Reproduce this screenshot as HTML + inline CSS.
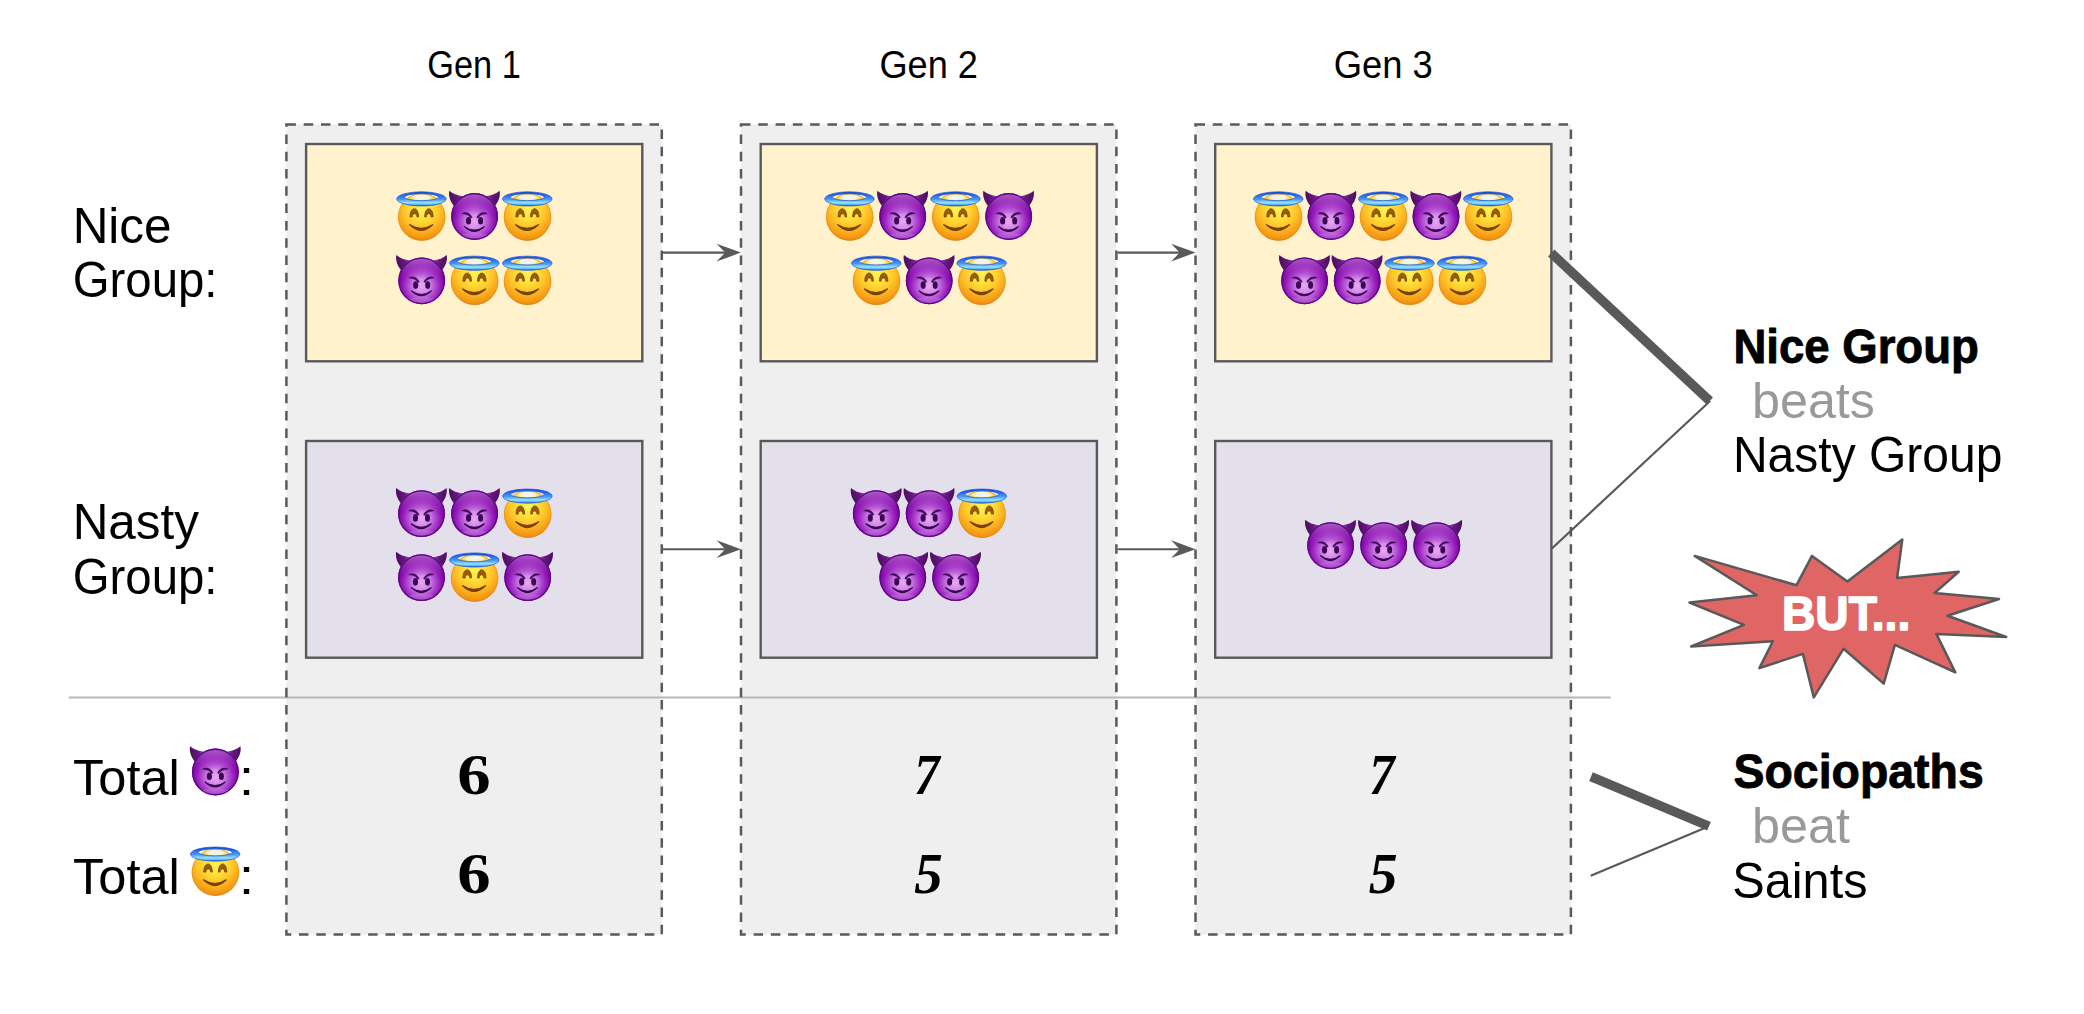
<!DOCTYPE html>
<html><head><meta charset="utf-8"><title>Nice vs Nasty</title>
<style>html,body{margin:0;padding:0;background:#fff;overflow:hidden}svg{display:block}</style>
</head><body>
<svg width="2084" height="1014" viewBox="0 0 2084 1014">

<defs>
  <radialGradient id="gFace" cx="0" cy="-8" r="32" gradientUnits="userSpaceOnUse">
    <stop offset="0" stop-color="#fff452"/>
    <stop offset="0.3" stop-color="#ffe23a"/>
    <stop offset="0.55" stop-color="#fec62a"/>
    <stop offset="0.75" stop-color="#f9aa1c"/>
    <stop offset="0.92" stop-color="#f29412"/>
    <stop offset="1" stop-color="#e47e0a"/>
  </radialGradient>
  <radialGradient id="gFaceTop" cx="0" cy="-19.6" r="13" gradientUnits="userSpaceOnUse" gradientTransform="translate(0,-19.6) scale(1,0.32) translate(0,19.6)">
    <stop offset="0" stop-color="#f3f6ee"/>
    <stop offset="0.6" stop-color="#f0f3dc"/>
    <stop offset="1" stop-color="#fff27a" stop-opacity="0"/>
  </radialGradient>
  <linearGradient id="gHalo" x1="0" y1="-25.2" x2="0" y2="-11.1" gradientUnits="userSpaceOnUse">
    <stop offset="0" stop-color="#0f48d8"/>
    <stop offset="0.3" stop-color="#2d72ee"/>
    <stop offset="0.55" stop-color="#4a9cf6"/>
    <stop offset="0.78" stop-color="#95e6ff"/>
    <stop offset="0.92" stop-color="#5aa8f6"/>
    <stop offset="1" stop-color="#1d5ce0"/>
  </linearGradient>
  <radialGradient id="gDev" cx="0" cy="5" r="25" gradientUnits="userSpaceOnUse">
    <stop offset="0" stop-color="#e8a8f4"/>
    <stop offset="0.28" stop-color="#d68cea"/>
    <stop offset="0.52" stop-color="#b452d4"/>
    <stop offset="0.72" stop-color="#9a22be"/>
    <stop offset="0.88" stop-color="#8408aa"/>
    <stop offset="1" stop-color="#6a0490"/>
  </radialGradient>
  <linearGradient id="gDevTop" x1="0" y1="-23" x2="0" y2="-2" gradientUnits="userSpaceOnUse">
    <stop offset="0" stop-color="#b868d0" stop-opacity="0.9"/>
    <stop offset="1" stop-color="#a640c8" stop-opacity="0"/>
  </linearGradient>
  <linearGradient id="gHorn" x1="-26" y1="-20" x2="-12" y2="-24" gradientUnits="userSpaceOnUse">
    <stop offset="0" stop-color="#4a0c5c"/>
    <stop offset="0.6" stop-color="#661a80"/>
    <stop offset="1" stop-color="#a844c8"/>
  </linearGradient>
  <linearGradient id="gHornR" x1="26" y1="-20" x2="12" y2="-24" gradientUnits="userSpaceOnUse">
    <stop offset="0" stop-color="#4a0c5c"/>
    <stop offset="0.6" stop-color="#661a80"/>
    <stop offset="1" stop-color="#a844c8"/>
  </linearGradient>
  <clipPath id="cFace"><circle r="23.7"/></clipPath>
  <g id="angel">
    <circle r="23.7" fill="url(#gFace)"/>
    <ellipse cx="0" cy="-19.6" rx="14" ry="4.6" fill="url(#gFaceTop)" clip-path="url(#cFace)"/>
    <circle r="23.3" fill="none" stroke="#e08812" stroke-width="0.8" stroke-opacity="0.7"/>
    <path d="M-11.7,-0.1 C-11.7,-11 -3.1,-11 -3.1,-0.1 L-4.7,-0.1 C-4.9,-4.4 -9.3,-4.4 -9.5,-0.1 Z" fill="#9a5c08" stroke="#6e3c02" stroke-width="0.7" stroke-linejoin="round"/>
    <path d="M3.0,-0.1 C3.0,-11 11.4,-11 11.4,-0.1 L9.3,-0.1 C9.1,-4.4 4.8,-4.4 4.6,-0.1 Z" fill="#9a5c08" stroke="#6e3c02" stroke-width="0.7" stroke-linejoin="round"/>
    <path d="M-11.9,7.7 Q-0.5,18.8 10.9,7.7 Q-0.5,15.0 -11.9,7.7 Z" fill="#7a4204" stroke="#7a4204" stroke-width="1.3" stroke-linejoin="round"/>
    <path fill-rule="evenodd" fill="url(#gHalo)" stroke="#1550dc" stroke-width="0.7" d="M-25,-18.1 a24.75,7.05 0 1,0 49.5,0 a24.75,7.05 0 1,0 -49.5,0 Z M-17.2,-19.85 a16.95,3.5 0 1,0 33.9,0 a16.95,3.5 0 1,0 -33.9,0 Z"/>
  </g>
  <g id="devil">
    <path d="M-20.4,-10.2 C-23.6,-14 -26.6,-20.4 -25.3,-25.8 C-22,-22.6 -17.5,-21.2 -11.2,-20.2 Z" fill="url(#gHorn)"/>
    <path d="M20.1,-10.2 C23.3,-14 26.3,-20.4 25,-25.8 C21.7,-22.6 17.2,-21.2 10.9,-20.2 Z" fill="url(#gHornR)"/>
    <circle r="23.4" fill="url(#gDev)"/>
    <circle r="23.4" fill="url(#gDevTop)"/>
    <ellipse cx="0" cy="19.5" rx="14" ry="3.2" fill="#c888e0" opacity="0.35"/>
    <circle r="22.75" fill="none" stroke="#5a0882" stroke-width="1.3"/>
    <path d="M-12.8,-3.0 C-9,-4.9 -4.9,-3.9 -2.4,0.9 L-3.8,1.6 C-5.6,-1.7 -9,-2.4 -12.8,-3.0 Z" fill="#3a0552" stroke="#3a0552" stroke-width="0.5" stroke-linejoin="round"/>
    <path d="M12.5,-3.0 C8.7,-4.9 4.6,-3.9 2.1,0.9 L3.5,1.6 C5.3,-1.7 8.7,-2.4 12.5,-3.0 Z" fill="#3a0552" stroke="#3a0552" stroke-width="0.5" stroke-linejoin="round"/>
    <ellipse cx="-6.05" cy="4.25" rx="2.55" ry="3.85" fill="#3a0552"/>
    <ellipse cx="6.0" cy="4.25" rx="2.5" ry="3.85" fill="#3a0552"/>
    <path d="M-10.2,10.1 Q-0.25,19.8 9.7,10.1 Q-0.25,17.3 -10.2,10.1 Z" fill="#3a0552" stroke="#3a0552" stroke-width="1.15" stroke-linejoin="round"/>
  </g>
</defs>

<rect x="286.4" y="124.4" width="375.4" height="810.1" fill="#efefef"/>
<rect x="741.0" y="124.4" width="375.4" height="810.1" fill="#efefef"/>
<rect x="1195.5" y="124.4" width="375.4" height="810.1" fill="#efefef"/>
<line x1="69" y1="697.5" x2="1610.7" y2="697.5" stroke="#b7b7b7" stroke-width="2.2"/>
<rect x="286.4" y="124.4" width="375.4" height="810.1" fill="none" stroke="#595959" stroke-width="2.5" stroke-dasharray="9.5 7.79"/>
<rect x="741.0" y="124.4" width="375.4" height="810.1" fill="none" stroke="#595959" stroke-width="2.5" stroke-dasharray="9.5 7.79"/>
<rect x="1195.5" y="124.4" width="375.4" height="810.1" fill="none" stroke="#595959" stroke-width="2.5" stroke-dasharray="9.5 7.79"/>
<rect x="306.09999999999997" y="144.0" width="336.2" height="217.3" fill="#fff2cc" stroke="#595959" stroke-width="2.4"/>
<rect x="306.09999999999997" y="441.0" width="336.2" height="216.70000000000005" fill="#e3e0ec" stroke="#595959" stroke-width="2.4"/>
<rect x="760.7" y="144.0" width="336.2" height="217.3" fill="#fff2cc" stroke="#595959" stroke-width="2.4"/>
<rect x="760.7" y="441.0" width="336.2" height="216.70000000000005" fill="#e3e0ec" stroke="#595959" stroke-width="2.4"/>
<rect x="1215.2" y="144.0" width="336.2" height="217.3" fill="#fff2cc" stroke="#595959" stroke-width="2.4"/>
<rect x="1215.2" y="441.0" width="336.2" height="216.70000000000005" fill="#e3e0ec" stroke="#595959" stroke-width="2.4"/>
<line x1="663.0" y1="252.6" x2="726.0" y2="252.6" stroke="#595959" stroke-width="2.1"/><path d="M741.0,252.6 L716.6,243.7 L725.2,252.6 L716.6,261.5 Z" fill="#595959"/>
<line x1="663.0" y1="549.2" x2="726.0" y2="549.2" stroke="#595959" stroke-width="2.1"/><path d="M741.0,549.2 L716.6,540.3000000000001 L725.2,549.2 L716.6,558.1 Z" fill="#595959"/>
<line x1="1117.6000000000001" y1="252.6" x2="1180.5" y2="252.6" stroke="#595959" stroke-width="2.1"/><path d="M1195.5,252.6 L1171.1,243.7 L1179.7,252.6 L1171.1,261.5 Z" fill="#595959"/>
<line x1="1117.6000000000001" y1="549.2" x2="1180.5" y2="549.2" stroke="#595959" stroke-width="2.1"/><path d="M1195.5,549.2 L1171.1,540.3000000000001 L1179.7,549.2 L1171.1,558.1 Z" fill="#595959"/>
<use href="#angel" x="421.70" y="217.00"/><use href="#devil" x="474.60" y="216.50"/><use href="#angel" x="527.50" y="217.00"/>
<use href="#devil" x="421.70" y="280.80"/><use href="#angel" x="474.60" y="281.30"/><use href="#angel" x="527.50" y="281.30"/>
<use href="#devil" x="421.50" y="513.70"/><use href="#devil" x="474.60" y="513.70"/><use href="#angel" x="527.70" y="514.20"/>
<use href="#devil" x="421.50" y="577.60"/><use href="#angel" x="474.60" y="578.10"/><use href="#devil" x="527.70" y="577.60"/>
<use href="#angel" x="849.70" y="217.00"/><use href="#devil" x="902.70" y="216.50"/><use href="#angel" x="955.70" y="217.00"/><use href="#devil" x="1008.70" y="216.50"/>
<use href="#angel" x="876.50" y="281.30"/><use href="#devil" x="929.20" y="280.80"/><use href="#angel" x="981.90" y="281.30"/>
<use href="#devil" x="876.30" y="513.70"/><use href="#devil" x="929.20" y="513.70"/><use href="#angel" x="982.10" y="514.20"/>
<use href="#devil" x="902.75" y="577.60"/><use href="#devil" x="955.65" y="577.60"/>
<use href="#angel" x="1278.50" y="217.00"/><use href="#devil" x="1331.00" y="216.50"/><use href="#angel" x="1383.50" y="217.00"/><use href="#devil" x="1436.00" y="216.50"/><use href="#angel" x="1488.50" y="217.00"/>
<use href="#devil" x="1304.60" y="280.80"/><use href="#devil" x="1357.20" y="280.80"/><use href="#angel" x="1409.80" y="281.30"/><use href="#angel" x="1462.40" y="281.30"/>
<use href="#devil" x="1330.60" y="545.60"/><use href="#devil" x="1383.70" y="545.60"/><use href="#devil" x="1436.80" y="545.60"/>
<line x1="1551.2" y1="253.0" x2="1709.8" y2="401.0" stroke="#595959" stroke-width="9.3"/>
<line x1="1710.1" y1="401.0" x2="1551.6" y2="548.8" stroke="#595959" stroke-width="2.2"/>
<line x1="1591" y1="776.6" x2="1709" y2="826.2" stroke="#595959" stroke-width="9.3"/>
<line x1="1706" y1="827.6" x2="1590.7" y2="875.7" stroke="#595959" stroke-width="2.2"/>
<polygon points="1694.7,555.9 1796.5,585.2 1812,555.9 1847.4,581.4 1902.3,539.5 1897.1,578 1958.7,571.8 1934.6,593 1999,599 1947.5,615.8 2006.2,637 1936.3,633.9 1955.3,672.4 1894.9,644.8 1883.7,683.6 1843.6,648.7 1813.8,697.4 1802.9,653.9 1759.4,668.1 1772.9,641.3 1691.2,646.5 1743.9,624.9 1689.5,602.5 1756.8,595.2" fill="#e06666" stroke="#595959" stroke-width="2.5" stroke-linejoin="round"/>
<text id="gen1" x="427.32" y="77.7" font-family="&quot;Liberation Sans&quot;, sans-serif" font-size="39.5" font-weight="normal" font-style="normal" fill="#000" text-anchor="start" textLength="93.5" lengthAdjust="spacingAndGlyphs">Gen 1</text>
<text id="gen2" x="879.46" y="78" font-family="&quot;Liberation Sans&quot;, sans-serif" font-size="39.5" font-weight="normal" font-style="normal" fill="#000" text-anchor="start" textLength="98.42" lengthAdjust="spacingAndGlyphs">Gen 2</text>
<text id="gen3" x="1333.76" y="78" font-family="&quot;Liberation Sans&quot;, sans-serif" font-size="39.5" font-weight="normal" font-style="normal" fill="#000" text-anchor="start" textLength="99.06" lengthAdjust="spacingAndGlyphs">Gen 3</text>
<text id="nice" x="72.63" y="242.8" font-family="&quot;Liberation Sans&quot;, sans-serif" font-size="50.5" font-weight="normal" font-style="normal" fill="#000" text-anchor="start" textLength="98.91" lengthAdjust="spacingAndGlyphs">Nice</text>
<text id="group1" x="72.75" y="296.7" font-family="&quot;Liberation Sans&quot;, sans-serif" font-size="50.5" font-weight="normal" font-style="normal" fill="#000" text-anchor="start" textLength="144.68" lengthAdjust="spacingAndGlyphs">Group:</text>
<text id="nasty" x="72.63" y="539" font-family="&quot;Liberation Sans&quot;, sans-serif" font-size="50.5" font-weight="normal" font-style="normal" fill="#000" text-anchor="start" textLength="126.36" lengthAdjust="spacingAndGlyphs">Nasty</text>
<text id="group2" x="72.75" y="593.8" font-family="&quot;Liberation Sans&quot;, sans-serif" font-size="50.5" font-weight="normal" font-style="normal" fill="#000" text-anchor="start" textLength="144.68" lengthAdjust="spacingAndGlyphs">Group:</text>
<text id="total1" x="73.05" y="794.8" font-family="&quot;Liberation Sans&quot;, sans-serif" font-size="50.3" font-weight="normal" font-style="normal" fill="#000" text-anchor="start" textLength="106.72" lengthAdjust="spacingAndGlyphs">Total</text>
<text id="total2" x="73.05" y="893.7" font-family="&quot;Liberation Sans&quot;, sans-serif" font-size="50.3" font-weight="normal" font-style="normal" fill="#000" text-anchor="start" textLength="106.72" lengthAdjust="spacingAndGlyphs">Total</text>
<text id="colon1" x="238.69" y="794.8" font-family="&quot;Liberation Sans&quot;, sans-serif" font-size="50.3" font-weight="normal" font-style="normal" fill="#000" text-anchor="start" textLength="15.53" lengthAdjust="spacingAndGlyphs">:</text>
<text id="colon2" x="238.69" y="893.7" font-family="&quot;Liberation Sans&quot;, sans-serif" font-size="50.3" font-weight="normal" font-style="normal" fill="#000" text-anchor="start" textLength="15.53" lengthAdjust="spacingAndGlyphs">:</text>
<text id="n6a" x="457.28" y="794.4" font-family="&quot;Liberation Serif&quot;, sans-serif" font-size="57.5" font-weight="bold" font-style="normal" fill="#000" text-anchor="start" textLength="33.35" lengthAdjust="spacingAndGlyphs">6</text>
<text id="n6b" x="457.28" y="893.3" font-family="&quot;Liberation Serif&quot;, sans-serif" font-size="57.5" font-weight="bold" font-style="normal" fill="#000" text-anchor="start" textLength="33.35" lengthAdjust="spacingAndGlyphs">6</text>
<text id="n7a" x="914.28" y="794.4" font-family="&quot;Liberation Serif&quot;, sans-serif" font-size="57.5" font-weight="bold" font-style="italic" fill="#000" text-anchor="start" textLength="25.35" lengthAdjust="spacingAndGlyphs">7</text>
<text id="n5a" x="914.18" y="893.3" font-family="&quot;Liberation Serif&quot;, sans-serif" font-size="57.5" font-weight="bold" font-style="italic" fill="#000" text-anchor="start" textLength="28.51" lengthAdjust="spacingAndGlyphs">5</text>
<text id="n7b" x="1369.28" y="794.4" font-family="&quot;Liberation Serif&quot;, sans-serif" font-size="57.5" font-weight="bold" font-style="italic" fill="#000" text-anchor="start" textLength="25.35" lengthAdjust="spacingAndGlyphs">7</text>
<text id="n5b" x="1368.87" y="893.3" font-family="&quot;Liberation Serif&quot;, sans-serif" font-size="57.5" font-weight="bold" font-style="italic" fill="#000" text-anchor="start" textLength="28.84" lengthAdjust="spacingAndGlyphs">5</text>
<text id="nicegroup" stroke="#000" stroke-width="0.9" stroke-linejoin="round" x="1733.41" y="362.85" font-family="&quot;Liberation Sans&quot;, sans-serif" font-size="48" font-weight="bold" font-style="normal" fill="#000" text-anchor="start" textLength="245.36" lengthAdjust="spacingAndGlyphs">Nice Group</text>
<text id="beats" x="1752.11" y="418" font-family="&quot;Liberation Sans&quot;, sans-serif" font-size="50" font-weight="normal" font-style="normal" fill="#999999" text-anchor="start" textLength="122.8" lengthAdjust="spacingAndGlyphs">beats</text>
<text id="nastygroup" x="1732.94" y="472.4" font-family="&quot;Liberation Sans&quot;, sans-serif" font-size="50" font-weight="normal" font-style="normal" fill="#000" text-anchor="start" textLength="269.43" lengthAdjust="spacingAndGlyphs">Nasty Group</text>
<text id="socio" stroke="#000" stroke-width="0.9" stroke-linejoin="round" x="1733.51" y="788.2" font-family="&quot;Liberation Sans&quot;, sans-serif" font-size="48.5" font-weight="bold" font-style="normal" fill="#000" text-anchor="start" textLength="250.28" lengthAdjust="spacingAndGlyphs">Sociopaths</text>
<text id="beat" x="1752.1" y="843" font-family="&quot;Liberation Sans&quot;, sans-serif" font-size="50" font-weight="normal" font-style="normal" fill="#999999" text-anchor="start" textLength="97.81" lengthAdjust="spacingAndGlyphs">beat</text>
<text id="saints" x="1732.28" y="898" font-family="&quot;Liberation Sans&quot;, sans-serif" font-size="50" font-weight="normal" font-style="normal" fill="#000" text-anchor="start" textLength="135.2" lengthAdjust="spacingAndGlyphs">Saints</text>
<text id="but" stroke="#ffffff" stroke-width="1.6" stroke-linejoin="round" x="1782.04" y="630.3" font-family="&quot;Liberation Sans&quot;, sans-serif" font-size="49" font-weight="bold" font-style="normal" fill="#ffffff" text-anchor="start" textLength="128.24" lengthAdjust="spacingAndGlyphs">BUT...</text>
<use href="#devil" x="215.4" y="772"/>
<use href="#angel" x="215.4" y="872.2"/>
</svg>
</body></html>
